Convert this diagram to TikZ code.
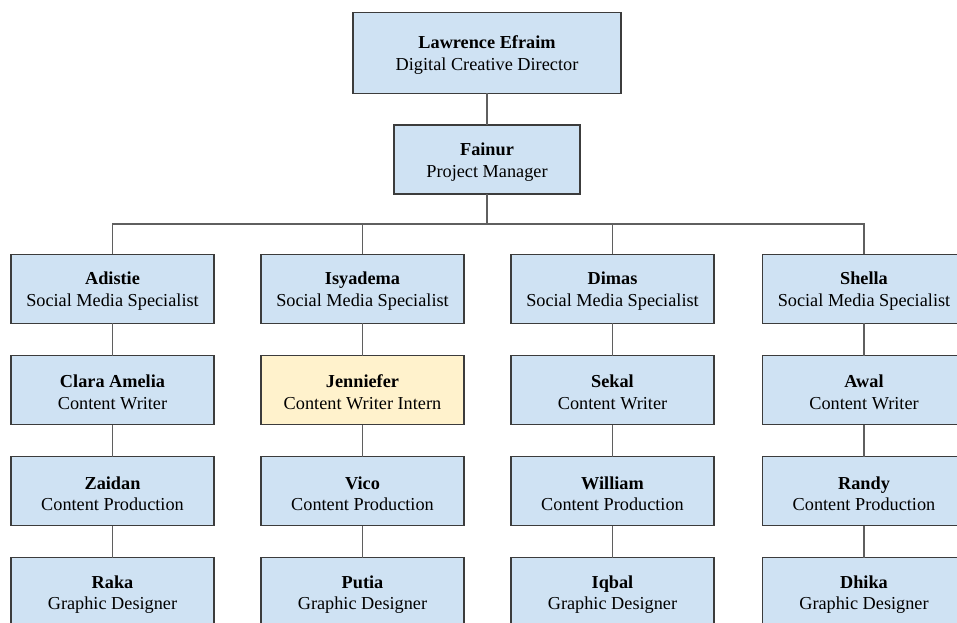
\documentclass[tikz,border=0pt]{standalone}
\usepackage{fontspec}
\setmainfont{Liberation Serif}
\definecolor{cardblue}{HTML}{CFE2F3}
\definecolor{cardyellow}{HTML}{FFF2CC}
\definecolor{cardedge}{HTML}{3C3C3C}
\definecolor{linkgray}{HTML}{5F5F5F}
\tikzset{
	card/.style={draw=cardedge,fill=cardblue,line width=0.9pt,inner sep=0,outer sep=0,
		minimum width=152.25pt,minimum height=51.75pt,align=center,
		font=\fontsize{13.7}{16.3}\selectfont},
	intern/.style={card,fill=cardyellow},
	link/.style={draw=linkgray,line width=1.1pt}
}
\newcommand{\who}[2]{\rule{0pt}{13pt}\textbf{#1}\\#2}
\begin{document}
\begin{tikzpicture}[x=0.75pt,y=-0.75pt]
	\clip (0,0) rectangle (957,623);
	\fill[white] (0,0) rectangle (957,623);
	% top of the chart
	\node[card,minimum width=201pt,minimum height=60.5pt] (ceo) at (487,53) {\who{Lawrence Efraim}{Digital Creative Director}};
	\node[card,minimum width=139.5pt] (pm) at (487,159.5) {\who{Fainur}{Project Manager}};
	\coordinate (bus) at (487,224);
	% first column
	\node[card] (a1) at (112.5,288.8) {\who{Adistie}{Social Media Specialist}};
	\node[card] (a2) at (112.5,390.3) {\who{Clara Amelia}{Content Writer}};
	\node[card] (a3) at (112.5,491.3) {\who{Zaidan}{Content Production}};
	\node[card] (a4) at (112.5,592.3) {\who{Raka}{Graphic Designer}};
	% second column
	\node[card] (b1) at (362.5,288.8) {\who{Isyadema}{Social Media Specialist}};
	\node[intern] (b2) at (362.5,390.3) {\who{Jenniefer}{Content Writer Intern}};
	\node[card] (b3) at (362.5,491.3) {\who{Vico}{Content Production}};
	\node[card] (b4) at (362.5,592.3) {\who{Putia}{Graphic Designer}};
	% third column
	\node[card] (c1) at (612.5,288.8) {\who{Dimas}{Social Media Specialist}};
	\node[card] (c2) at (612.5,390.3) {\who{Sekal}{Content Writer}};
	\node[card] (c3) at (612.5,491.3) {\who{William}{Content Production}};
	\node[card] (c4) at (612.5,592.3) {\who{Iqbal}{Graphic Designer}};
	% fourth column
	\node[card] (d1) at (864,288.8) {\who{Shella}{Social Media Specialist}};
	\node[card] (d2) at (864,390.3) {\who{Awal}{Content Writer}};
	\node[card] (d3) at (864,491.3) {\who{Randy}{Content Production}};
	\node[card] (d4) at (864,592.3) {\who{Dhika}{Graphic Designer}};
	% links
	\draw[link] (ceo) -- (pm);
	\draw[link] (pm) -- (bus);
	\draw[link] (a1) -- (a1 |- bus) -- (d1 |- bus) -- (d1);
	\draw[link] (b1) -- (b1 |- bus);
	\draw[link] (c1) -- (c1 |- bus);
	\draw[link] (a1) -- (a2) -- (a3) -- (a4);
	\draw[link] (b1) -- (b2) -- (b3) -- (b4);
	\draw[link] (c1) -- (c2) -- (c3) -- (c4);
	\draw[link] (d1) -- (d2) -- (d3) -- (d4);
\end{tikzpicture}
\end{document}
